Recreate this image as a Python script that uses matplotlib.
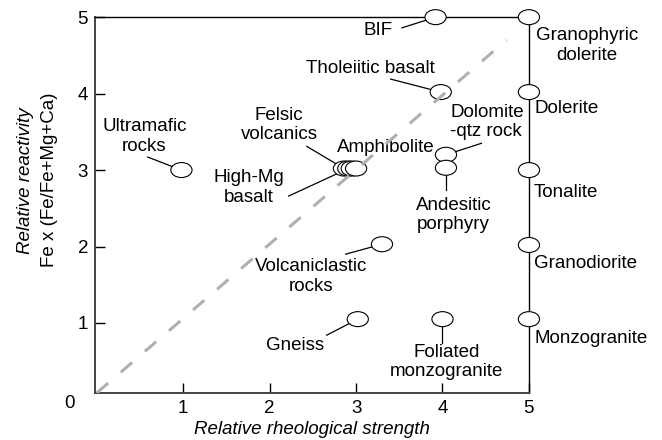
import matplotlib
matplotlib.use("Agg")
import matplotlib.pyplot as plt
from matplotlib.patches import Ellipse

plt.rcParams["font.family"] = ["Liberation Sans", "DejaVu Sans"]

# rock types: relative rheological strength vs relative reactivity
rocks = ["Ultramafic rocks", "BIF", "Granophyric dolerite", "Tholeiitic basalt",
         "Dolerite", "Dolomite -qtz rock", "Andesitic porphyry",
         "Felsic volcanics", "High-Mg basalt", "Amphibolite 1", "Amphibolite 2",
         "Tonalite", "Volcaniclastic rocks", "Granodiorite", "Gneiss",
         "Foliated monzogranite", "Monzogranite"]
strength = [0.98, 3.92, 5.0, 3.98, 5.0, 4.04, 4.04,
            2.86, 2.91, 2.95, 3.0, 5.0, 3.3, 5.0, 3.02, 4.0, 5.0]
reactivity = [3.0, 5.0, 5.0, 4.02, 4.02, 3.2, 3.03,
              3.02, 3.02, 3.02, 3.02, 3.0, 2.03, 2.02, 1.05, 1.05, 1.05]

# dashed 1:1 reference line
ref_x = [0.0, 4.74]
ref_y = [0.085, 4.70]

# labels: text, text position, alignment, index of the rock the leader
# points to (None = no leader), outer end of the leader line
labels = [
    ("Ultramafic\nrocks", (0.55, 3.44), "center", 0, (0.59, 3.17)),
    ("BIF", (3.25, 4.82), "center", 1, (3.53, 4.86)),
    ("Granophyric\ndolerite", (5.67, 4.63), "center", None, None),
    ("Tholeiitic basalt", (3.17, 4.33), "center", 3, (3.40, 4.19)),
    ("Dolerite", (5.06, 3.80), "left", None, None),
    ("Dolomite\n-qtz rock", (4.09, 3.63), "left", 5, (4.45, 3.35)),
    ("Andesitic\nporphyry", (4.13, 2.41), "center", 6, (4.04, 2.74)),
    ("Felsic\nvolcanics", (2.11, 3.59), "center", 7, (2.43, 3.31)),
    ("High-Mg\nbasalt", (1.76, 2.77), "center", 8, (2.22, 2.66)),
    ("Amphibolite", (3.34, 3.30), "center", None, None),
    ("Tonalite", (5.06, 2.71), "left", None, None),
    ("Volcaniclastic\nrocks", (2.48, 1.61), "center", 12, (2.88, 1.90)),
    ("Granodiorite", (5.06, 1.78), "left", None, None),
    ("Gneiss", (2.29, 0.71), "center", 14, (2.66, 0.84)),
    ("Foliated\nmonzogranite", (4.05, 0.49), "center", 15, (4.0, 0.74)),
    ("Monzogranite", (5.06, 0.80), "left", None, None),
]

fs = 13.5
fig = plt.figure(figsize=(6.62, 4.40), dpi=100)
ax = fig.add_axes([0.1435, 0.107, 0.6555, 0.854])
ax.set_xlim(-0.02, 5)
ax.set_ylim(0.085, 5)

for side in ["left", "bottom"]:
    ax.spines[side].set_color("#444444")
    ax.spines[side].set_linewidth(1.4)
for side in ["right", "top"]:
    ax.spines[side].set_color("black")
    ax.spines[side].set_linewidth(1.0)

ax.set_xticks([1, 2, 3, 4, 5])
ax.set_yticks([1, 2, 3, 4, 5])
ax.tick_params(direction="in", length=7, width=1.0, labelsize=fs, pad=5)

ax.plot(ref_x, ref_y, color="#b0b0b0", lw=2.2, dashes=(4.9, 5.5), zorder=5)

# white-filled ellipses sit above the leader lines, so leaders stop at the rim
for x, y in zip(strength, reactivity):
    e = Ellipse((x, y), 0.245, 0.196, facecolor="white", edgecolor="black",
                lw=0.8, zorder=4, clip_on=False)
    ax.add_patch(e)

for text, pos, ha, idx, start in labels:
    ax.text(pos[0], pos[1], text, ha=ha, va="center", fontsize=fs,
            multialignment="center" if ha == "center" else "left",
            clip_on=False, zorder=3)
    if idx is not None:
        ax.plot([start[0], strength[idx]], [start[1], reactivity[idx]],
                color="black", lw=0.9, zorder=3, clip_on=False)

ax.text(-0.31, -0.05, "0", ha="center", va="center", fontsize=fs, clip_on=False)
ax.text(0.5, -0.098, "Relative rheological strength", transform=ax.transAxes,
        ha="center", va="center", fontsize=fs, style="italic")
ax.text(-0.161, 0.566, "Relative reactivity", transform=ax.transAxes,
        ha="center", va="center", fontsize=fs, style="italic", rotation=90)
ax.text(-0.104, 0.566, "Fe x (Fe/Fe+Mg+Ca)", transform=ax.transAxes,
        ha="center", va="center", fontsize=fs, rotation=90)

fig.savefig("out.png", dpi=100)
